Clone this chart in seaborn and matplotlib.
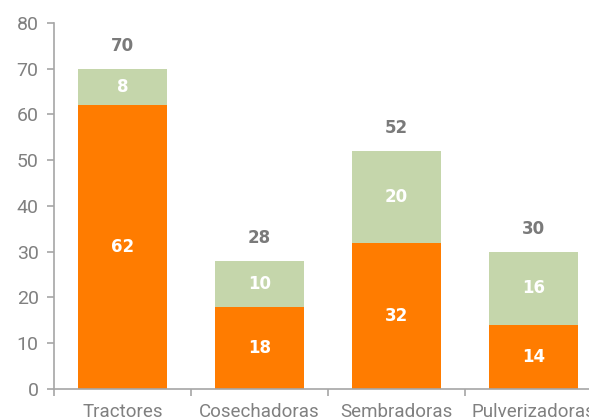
import matplotlib
matplotlib.use("Agg")
import matplotlib.pyplot as plt
import seaborn as sns
import pandas as pd

# data
categorias = ["Tractores", "Cosechadoras", "Sembradoras", "Pulverizadoras"]
naranja = [62, 18, 32, 14]
verde = [8, 10, 20, 16]
totales = [a + b for a, b in zip(naranja, verde)]

df = pd.DataFrame({"categoria": categorias, "naranja": naranja,
                   "verde": verde, "total": totales})

sns.set_style("white")
plt.rcParams["font.family"] = ["Roboto", "DejaVu Sans"]

c_orange = "#FF7C00"
c_green = "#C5D6AB"
c_gray = "#808080"
c_axis = "#A6A6A6"

fig = plt.figure(figsize=(5.89, 4.19), dpi=100)
ax = fig.add_axes([54 / 589, 30 / 419, 548 / 589, 366 / 419])

# green = total (drawn first), orange bottom on top of it
sns.barplot(data=df, x="categoria", y="total", color=c_green, width=0.65,
            saturation=1, linewidth=0, ax=ax)
sns.barplot(data=df, x="categoria", y="naranja", color=c_orange, width=0.65,
            saturation=1, linewidth=0, ax=ax)

bold = dict(ha="center", va="center", fontsize=12, fontweight="bold",
            family="DejaVu Sans")
for i, (o, g, t) in enumerate(zip(naranja, verde, totales)):
    ax.text(i, o / 2, str(o), color="white", **bold)
    ax.text(i, o + g / 2, str(g), color="white", **bold)
    ax.text(i, t + 5, str(t), color="#7A7A7A", **bold)

ax.set_xlim(-0.5, 3.5)
ax.set_ylim(0, 80)
ax.set_yticks(range(0, 81, 10))
ax.set_xlabel("")
ax.set_ylabel("")

sns.despine(ax=ax, top=True, right=True)
for s in ["left", "bottom"]:
    ax.spines[s].set_color(c_axis)
    ax.spines[s].set_linewidth(1.2)

ax.tick_params(axis="y", colors=c_axis, labelcolor=c_gray, labelsize=14,
               left=True, length=5, width=1.2, direction="out", pad=6)
ax.tick_params(axis="x", which="major", length=0, labelcolor=c_gray,
               labelsize=13.5, pad=10)
ax.set_xticks([-0.5, 0.5, 1.5, 2.5], minor=True)
ax.tick_params(axis="x", which="minor", bottom=True, length=5, width=1.2,
               color=c_axis, direction="out")

fig.savefig("out.png", dpi=100)
